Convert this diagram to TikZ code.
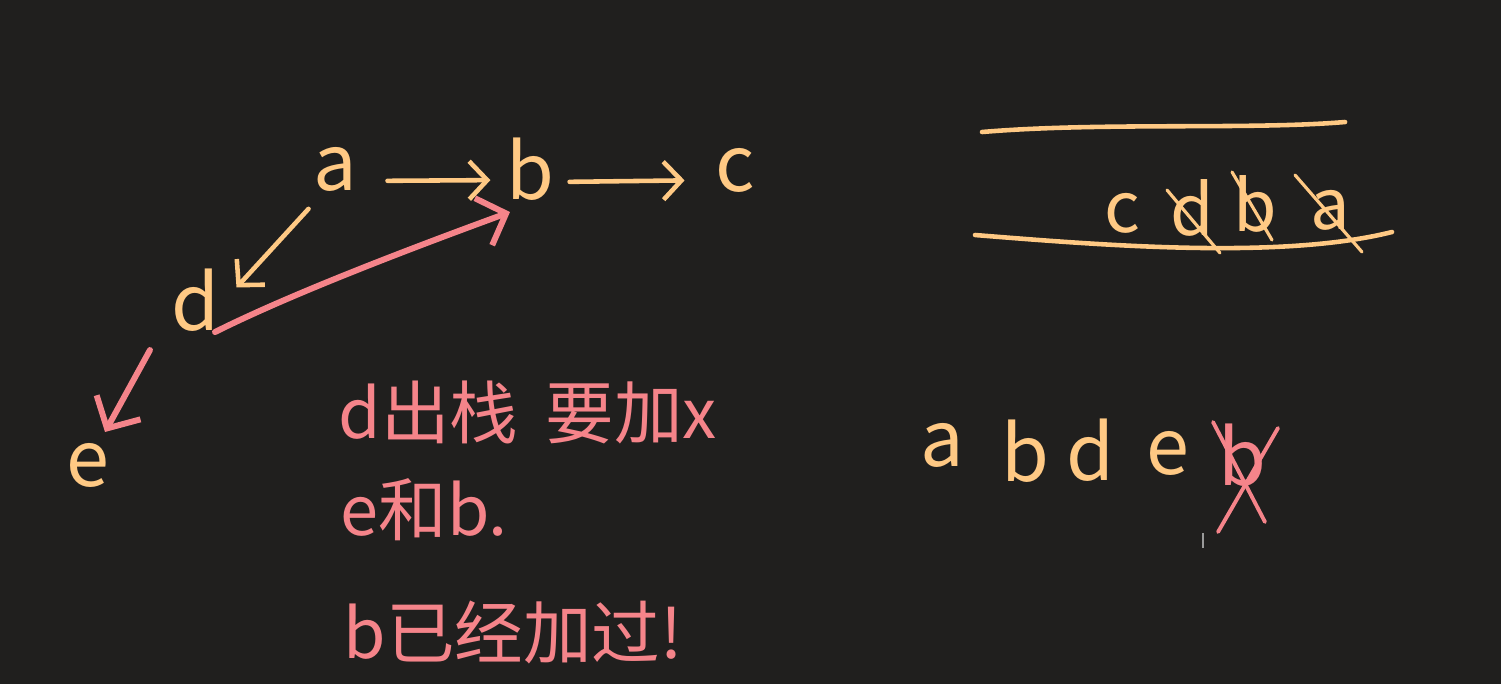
\documentclass[tikz,border=0pt]{standalone}
\usepackage{fontspec}
\setmainfont{Noto Sans CJK SC}
\usetikzlibrary{arrows.meta}
\definecolor{bg}{HTML}{201F1E}
\definecolor{org}{HTML}{FFC984}
\definecolor{pnk}{HTML}{F5848A}
\definecolor{cur}{HTML}{9A9A9A}
\begin{document}
\begin{tikzpicture}[x=0.01cm,y=-0.01cm,
  letter/.style={text=org,font=\fontsize{22}{22}\selectfont,inner sep=0pt},
  sletter/.style={letter,font=\fontsize{20}{20}\selectfont},
  pletter/.style={letter,text=pnk},
  note/.style={text=pnk,font=\fontsize{19.5}{24}\selectfont,anchor=west,inner sep=0pt},
  oline/.style={draw=org,line width=1.3pt,line cap=round},
  pline/.style={draw=pnk,line width=1.7pt,line cap=round},
  otip/.style={oline,-{Straight Barb[length=1.8mm,width=3.8mm]}},
  ptip/.style={pline,-{Straight Barb[length=2.4mm,width=5mm]}},
  strike/.style={draw=org,line width=0.9pt,line cap=round},
  pstrike/.style={draw=pnk,line width=1.1pt,line cap=round}]
\fill[bg] (0,0) rectangle (1501,684);
\useasboundingbox (0,0) rectangle (1501,684);
% graph
\node[letter] (a) at (335,169) {a};
\node[letter] (b) at (530,169) {b};
\node[letter] (c) at (735,170) {c};
\node[letter] (d) at (195,300) {d};
\node[letter] (e) at (88,465) {e};
\draw[otip,shorten <=0.3cm,shorten >=0.15cm] ([yshift=-0.12cm]a.east) -- ([yshift=-0.11cm]b.west);
\draw[otip,shorten <=0.15cm,shorten >=0.3cm] ([yshift=-0.13cm]b.east) -- ([yshift=-0.1cm]c.west);
\draw[otip,shorten <=0.54cm,shorten >=0.17cm] ([xshift=0.1cm]a.center) -- ([xshift=0.3cm]d.center);
\draw[ptip] ([xshift=0.2cm,yshift=-0.32cm]d.center) .. controls +(80,-40) and +(-90,33) .. ([xshift=-0.2cm,yshift=-0.43cm]b.center);
\draw[ptip] ([xshift=-0.45cm,yshift=-0.5cm]d.center) -- ([xshift=0.17cm,yshift=0.33cm]e.center);
% stack
\draw[oline] (982,132) .. controls (1100,122) and (1250,130) .. (1345,122);
\draw[oline] (975,235) .. controls (1100,245) and (1280,260) .. (1392,232);
\node[sletter] (sc) at (1122,213) {c};
\node[sletter] (sd) at (1192,208) {d};
\node[sletter] (sb) at (1255,204) {b};
\node[sletter] (sa) at (1330,210) {a};
\draw[strike] (1167,190) -- (1220,253);
\draw[strike] (1232,172) -- (1272,240);
\draw[strike] (1295,175) -- (1362,252);
% visit order
\node[letter] (oa) at (942,445) {a};
\node[letter] (ob) at (1025,451) {b};
\node[letter] (od) at (1090,450) {d};
\node[letter] (oe) at (1168,453) {e};
\node[pletter] (ob2) at (1242,455) {b};
\draw[pstrike] (1213,422) -- (1265,522);
\draw[pstrike] (1278,428) -- (1218,532);
\draw[cur,line width=0.5pt] (1203,533) -- (1203,548);
% notes
\node[note] (n1) at (338,412) {d出栈\hspace{0.4em}要加x};
\node[note] (n2) at (340,510) {e和b.};
\node[note] (n3) at (343,632) {b已经加过!};
\end{tikzpicture}
\end{document}
